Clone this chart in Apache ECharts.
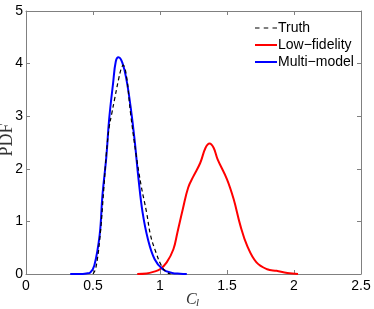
<!DOCTYPE html>
<html><head><meta charset="utf-8">
<script src="https://cdn.jsdelivr.net/npm/echarts@6/dist/echarts.min.js"></script>
<style>html,body{margin:0;padding:0;background:#fff}#c{width:374px;height:309px}</style>
</head><body><div id="c"></div>
<script>
var xTicks = [0, 0.5, 1, 1.5, 2, 2.5];
var yTicks = [0, 1, 2, 3, 4, 5];
var seriesNames = ['Truth', 'Low\u2212fidelity', 'Multi\u2212model'];
var xAxisTitle = ['C', 'l'];
var yAxisTitle = 'PDF';

var truthX = [0.50,0.52,0.55,0.58,0.60,0.62,0.64,0.66,0.69,0.71,0.725,0.75,0.78,0.82,0.86,0.90,0.93,0.97,1.01,1.05,1.08];
var truthY = [0,0.10,0.65,1.60,2.30,2.78,3.05,3.31,3.69,3.90,3.97,3.76,3.06,2.30,1.67,1.17,0.73,0.41,0.16,0.03,0];

var lowX = [0.83,0.90,0.95,1.00,1.05,1.10,1.13,1.17,1.21,1.25,1.30,1.34,1.37,1.40,1.43,1.50,1.55,1.60,1.65,1.72,1.80,1.87,1.95,2.03];
var lowY = [0,0.01,0.04,0.09,0.22,0.47,0.79,1.23,1.64,1.86,2.11,2.40,2.48,2.40,2.18,1.80,1.42,0.92,0.54,0.22,0.09,0.06,0.02,0];

var multiX = [0.33,0.40,0.45,0.48,0.51,0.55,0.57,0.60,0.62,0.65,0.67,0.69,0.72,0.75,0.78,0.81,0.84,0.87,0.91,0.96,1.02,1.09,1.15,1.20];
var multiY = [0,0,0.01,0.03,0.16,0.75,1.48,2.24,2.93,3.63,4.04,4.12,4.01,3.69,3.19,2.56,1.80,1.17,0.66,0.28,0.09,0.02,0.005,0];

function pairs(xs, ys){ return xs.map(function(x,i){ return [x, ys[i]]; }); }

var frame = '#808080';
var font = 'Liberation Sans, Arial, sans-serif';
var serif = 'Liberation Serif, serif';
function axisBase(extra){
  var o = {
    type:'value', splitLine:{show:false},
    axisLine:{show:true, onZero:false, lineStyle:{color:frame, width:1}},
    axisTick:{show:true, inside:true, length:4, lineStyle:{color:frame}},
    axisLabel:{color:'#000', fontFamily:font, fontSize:14}
  };
  for (var k in extra) o[k] = extra[k];
  return o;
}

var chart = echarts.init(document.getElementById('c'), null, {renderer:'canvas'});
chart.setOption({
  animation:false,
  backgroundColor:'#fff',
  grid:{left:26, right:13, top:11, bottom:35, show:false, containLabel:false, outerBoundsMode:'none'},
  legend:{
    orient:'vertical', left:250, top:16, itemWidth:22, itemHeight:2, itemGap:3,
    textStyle:{fontFamily:font, fontSize:14, color:'#000', padding:[0,0,0,-4]},
    data:[
      {name:seriesNames[0], icon:'path://M0,0h4.5v1h-4.5z M8.75,0h4.5v1h-4.5z M17.5,0h4.5v1h-4.5z', itemStyle:{color:'#000'}},
      {name:seriesNames[1], icon:'rect', itemStyle:{color:'#ff0000'}},
      {name:seriesNames[2], icon:'rect', itemStyle:{color:'#0000ff'}}
    ]
  },
  graphic:[
    {type:'text', x:7, y:140, rotation:Math.PI/2,
     style:{text:yAxisTitle, font:'18px ' + serif, fill:'#333', align:'center', verticalAlign:'middle'}},
    {type:'text', x:186, y:300,
     style:{text:xAxisTitle[0], font:'italic 16px ' + serif, fill:'#333', align:'left', verticalAlign:'middle'}},
    {type:'text', x:196, y:303,
     style:{text:xAxisTitle[1], font:'italic 11px ' + serif, fill:'#333', align:'left', verticalAlign:'middle'}}
  ],
  xAxis:[
    axisBase({min:xTicks[0], max:xTicks[xTicks.length-1], interval:0.5, position:'bottom',
      axisLabel:{color:'#000', fontFamily:font, fontSize:14, margin:5}}),
    axisBase({min:xTicks[0], max:xTicks[xTicks.length-1], interval:0.5, position:'top', axisLabel:{show:false}})
  ],
  yAxis:[
    axisBase({min:yTicks[0], max:yTicks[yTicks.length-1], interval:1, position:'left',
      axisLabel:{color:'#000', fontFamily:font, fontSize:14, margin:3}}),
    axisBase({min:yTicks[0], max:yTicks[yTicks.length-1], interval:1, position:'right', axisLabel:{show:false}})
  ],
  series:[
    {name:seriesNames[0], type:'line', data:pairs(truthX, truthY), smooth:0.4, symbol:'none', z:3,
     lineStyle:{color:'#000', width:1.2, type:[4,3]}, itemStyle:{color:'#000'}},
    {name:seriesNames[1], type:'line', data:pairs(lowX, lowY), smooth:0.4, symbol:'none', z:2,
     lineStyle:{color:'#ff0000', width:2}, itemStyle:{color:'#ff0000'}},
    {name:seriesNames[2], type:'line', data:pairs(multiX, multiY), smooth:0.4, symbol:'none', z:2,
     lineStyle:{color:'#0000ff', width:2}, itemStyle:{color:'#0000ff'}}
  ]
});
</script></body></html>
